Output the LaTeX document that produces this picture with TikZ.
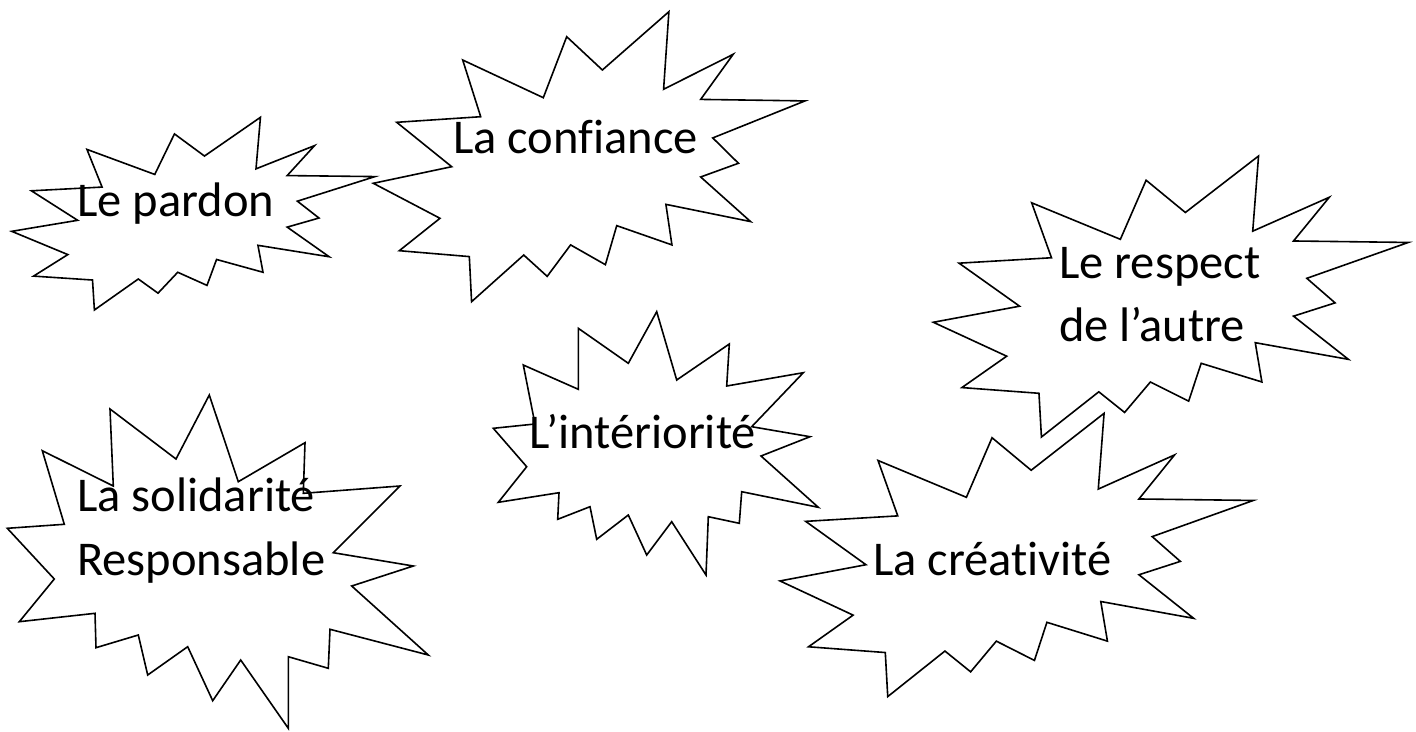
\documentclass[tikz,border=0pt]{standalone}
\usepackage{fontspec}
\setmainfont{Carlito}[Ligatures=CommonOff]
\tikzset{
  boom/.style={draw=black, line width=1.6pt, line join=miter},
  lbl/.style={inner sep=0pt, anchor=base west, font=\fontsize{48.5}{58}\selectfont}
}
\newcommand\stdboom{(114.62,43.42) -- (147.90,0) -- (145.25,57.77) -- (180.07,31.72) -- (163.80,65.32) -- (216,66.45) -- (169.85,94.02) -- (182.70,112.90) -- (163.80,123.10) -- (188.77,156.32) -- (146.40,143.50) -- (149.42,173.70) -- (121.80,159.35) -- (116.12,188.42) -- (98.72,173.70) -- (87.00,197.12) -- (75.27,181.25) -- (49.17,216) -- (48.05,182.40) -- (13.01,178.01) -- (33.37,153.88) -- (0,127.81) -- (39.23,115.45) -- (11.71,82.38) -- (53.74,78.21) -- (44.73,35.98) -- (85.06,64.05) -- (96.77,18.62) -- cycle}
\begin{document}
\begin{tikzpicture}[x=1pt,y=-1pt]
\useasboundingbox (0,0) rectangle (1416,731);
% Le pardon
\begin{scope}[shift={(11.7,117.3)}, xscale=363.3/216, yscale=192.7/216]
  \draw[boom] \stdboom;
\end{scope}
% La confiance
\begin{scope}[shift={(373.3,11.7)}, xscale=431.7/216, yscale=290/216]
  \draw[boom] \stdboom;
\end{scope}
% Le respect
\begin{scope}[shift={(933.3,156)}, xscale=475/216, yscale=281/216]
  \draw[boom] \stdboom;
\end{scope}
% La creativite
\begin{scope}[shift={(780,413.3)}, xscale=473.3/216, yscale=283.3/216]
  \draw[boom] \stdboom;
\end{scope}
% L'interiorite
\draw[boom] (656.7,311.7) -- (676.7,380) -- (729.3,344) -- (726.7,386) -- (803.3,372.7) -- (751.7,426.7) -- (810,436.7) -- (761,456) -- (818.3,507.3) -- (741.7,491.7) -- (739.3,523.3) -- (708.3,516.7) -- (706,575) -- (671.7,521.7) -- (646.7,555) -- (628.3,515) -- (596.7,539.3) -- (590,506.7) -- (557.7,519.3) -- (559,492.7) -- (498.3,502.3) -- (526.7,466.7) -- (493.3,428.3) -- (535,424) -- (523.3,365) -- (578.3,389.3) -- (578.3,328.3) -- (628.3,363.3) -- cycle;
% La solidarite
\draw[boom] (209.3,395) -- (238.3,481.7) -- (305,442.7) -- (303.3,493.3) -- (400,486) -- (333.3,552.7) -- (413.3,566) -- (351.7,586) -- (428.3,655) -- (330,629.3) -- (328.3,668.3) -- (288.3,656.7) -- (288.3,728.3) -- (240.7,660) -- (212.7,700.7) -- (187.7,646.7) -- (147.7,675) -- (138.3,635) -- (96,647.7) -- (95,613.3) -- (19.3,621.7) -- (54.3,579) -- (7.3,528.3) -- (64.3,524.3) -- (42.3,450.7) -- (113.3,486) -- (110,409) -- (176,459) -- cycle;
% labels
\node[lbl] (tpardon) at (77,216.7) {Le pardon};
\node[lbl] (tconf) at (453,153.3) {La confiance};
\node[lbl] (tresp1) at (1059,278.3) {Le respect};
\node[lbl] (tresp2) at (1059,341.7) {de l’autre};
\node[lbl] (tint) at (529,448.3) {L’intériorité};
\node[lbl] (tsol1) at (77,511.7) {La solidarité};
\node[lbl] (tsol2) at (77,575) {Responsable};
\node[lbl] (tcrea) at (873,575) {La créativité};
\end{tikzpicture}
\end{document}
